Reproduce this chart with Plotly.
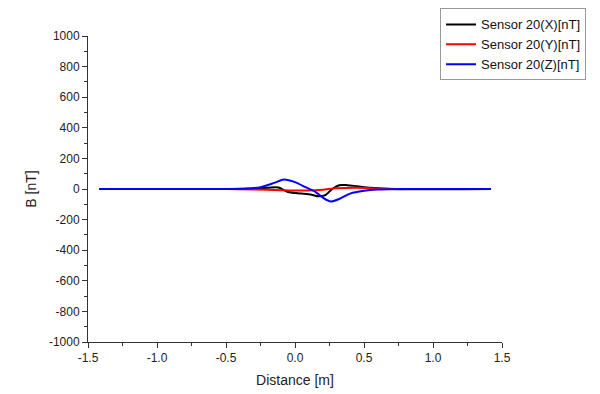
import plotly.graph_objects as go

# Sensor 20 X component
x_X = [-1.42, -0.6, -0.35, -0.2, -0.12, -0.05, 0.05, 0.12, 0.17, 0.22, 0.27, 0.32, 0.38, 0.45, 0.55, 0.7, 1.42]
b_X = [0, 0, 1, 8, 10, -20, -30, -38, -48, -40, 0, 25, 25, 18, 8, 0, 0]

# Sensor 20 Y component
x_Y = [-1.42, -0.5, -0.3, -0.1, 0.1, 0.2, 0.3, 0.45, 0.6, 0.8, 1.42]
b_Y = [0, 0, -3, -8, -10, -5, 5, 8, 3, 0, 0]

# Sensor 20 Z component
x_Z = [-1.42, -0.5, -0.35, -0.25, -0.15, -0.08, 0.0, 0.08, 0.15, 0.2, 0.26, 0.32, 0.4, 0.5, 0.6, 0.8, 1.42]
b_Z = [0, 0, 3, 12, 40, 62, 45, 10, -20, -55, -82, -65, -30, -12, -4, 0, 0]

names = ["Sensor 20(X)[nT]", "Sensor 20(Y)[nT]", "Sensor 20(Z)[nT]"]
colors = ["#000000", "#ff0000", "#0000ff"]

x_tickvals = [-1.5, -1.0, -0.5, 0.0, 0.5, 1.0, 1.5]
x_ticktext = ["-1.5", "-1.0", "-0.5", "0.0", "0.5", "1.0", "1.5"]
y_tickvals = [-1000, -800, -600, -400, -200, 0, 200, 400, 600, 800, 1000]
y_ticktext = ["-1000", "-800", "-600", "-400", "-200", "0", "200", "400", "600", "800", "1000"]

fig = go.Figure()
for xs, ys, n, c in zip([x_X, x_Y, x_Z], [b_X, b_Y, b_Z], names, colors):
    fig.add_trace(go.Scatter(x=xs, y=ys, name=n, mode="lines",
                             line=dict(color=c, width=2, shape="spline", smoothing=0.8)))

font = "Liberation Sans, Arial, sans-serif"
fig.update_layout(
    width=600, height=394,
    margin=dict(l=80, r=106, t=28, b=60, autoexpand=False),
    paper_bgcolor="white", plot_bgcolor="white",
    font=dict(family=font, size=12, color="#222"),
    showlegend=True,
    legend=dict(x=1.203, y=1.09, xanchor="right", yanchor="top",
                bgcolor="white", bordercolor="#999", borderwidth=1,
                font=dict(size=13, color="#111"), itemwidth=30,
                entrywidth=131, tracegroupgap=0),
    xaxis=dict(range=[-1.5, 1.5], tickvals=x_tickvals, ticktext=x_ticktext,
               showgrid=False, zeroline=False, showline=True, linecolor="#333", linewidth=1,
               ticks="outside", ticklen=5, tickcolor="#333",
               minor=dict(dtick=0.25, tick0=-1.5, ticks="outside", ticklen=3, tickcolor="#333", showgrid=False),
               title=dict(text="Distance [m]", font=dict(size=14), standoff=10)),
    yaxis=dict(range=[-1000, 1000], tickvals=y_tickvals, ticktext=y_ticktext,
               showgrid=False, zeroline=False, showline=True, linecolor="#333", linewidth=1,
               ticks="outside", ticklen=5, tickcolor="#333",
               minor=dict(dtick=100, tick0=-1000, ticks="outside", ticklen=3, tickcolor="#333", showgrid=False),
               title=dict(text="B [nT]", font=dict(size=14), standoff=8)),
)

fig.write_html("out.html")
